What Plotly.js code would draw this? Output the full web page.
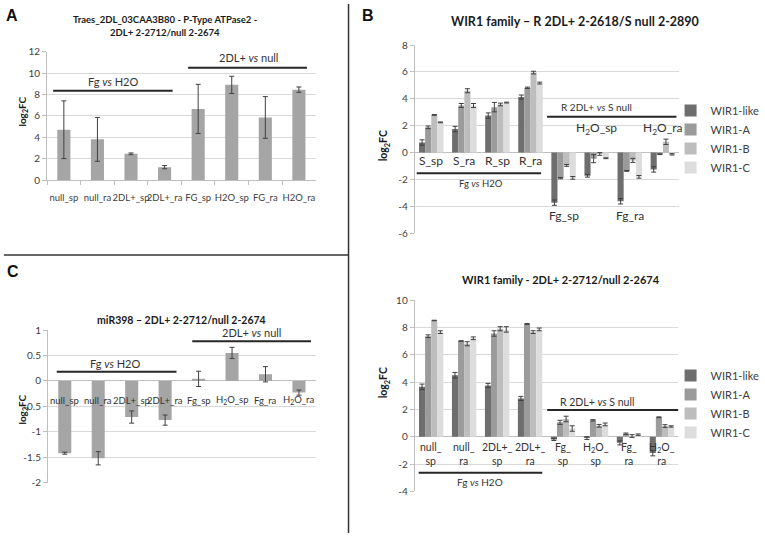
<!DOCTYPE html>
<html><head><meta charset="utf-8">
<script src="https://cdn.plot.ly/plotly-3.0.1.min.js"></script>
<style>html,body{margin:0;padding:0;background:#fff;}#chart{width:765px;height:537px;}</style>
</head><body><div id="chart"></div>
<script>
// ---------- DATA ----------
// Panel A
const catsA = ['null_sp','null_ra','2DL+_sp','2DL+_ra','FG_sp','H2O_sp','FG_ra','H2O_ra'];
const valsA = [4.7, 3.8, 2.45, 1.2, 6.65, 8.9, 5.85, 8.45];
const errA  = [2.7, 2.05, 0.08, 0.15, 2.3, 0.8, 1.95, 0.25];
// Panel C
const catsC = ['null_sp','null_ra','2DL+_sp','2DL+_ra','Fg_sp','H<sub>2</sub>O_sp','Fg_ra','H<sub>2</sub>O_ra'];
const valsC = [-1.42, -1.52, -0.71, -0.77, 0.04, 0.55, 0.13, -0.23];
const errC  = [0.02, 0.13, 0.12, 0.1, 0.15, 0.11, 0.15, 0.05];
// Panel B (top)
const seriesNames = ['WIR1-like','WIR1-A','WIR1-B','WIR1-C'];
const catsB1 = ['S_sp','S_ra','R_sp','R_ra','Fg_sp','H<sub>2</sub>O_sp','Fg_ra','H<sub>2</sub>O_ra'];
const b1Like = [0.75, 1.75, 2.75, 4.13, -3.72, -1.72, -3.62, -1.25];
const b1A    = [1.88, 3.5, 3.38, 4.82, -1.9, -0.45, -1.36, -0.12];
const b1B    = [2.8, 4.6, 3.58, 5.95, -0.95, -0.1, -0.58, 0.8];
const b1C    = [2.25, 3.5, 3.72, 5.17, -1.88, -0.42, -1.8, -0.13];
const b1LikeErr = [0.2, 0.2, 0.2, 0.15, 0.2, 0.1, 0.2, 0.2];
const b1AErr    = [0.1, 0.15, 0.35, 0.05, 0.05, 0.3, 0.03, 0.03];
const b1BErr    = [0.03, 0.15, 0.1, 0.1, 0.07, 0.1, 0.15, 0.2];
const b1CErr    = [0.03, 0.15, 0.03, 0.07, 0.1, 0.03, 0.1, 0.05];
// Panel B (bottom)
const catsB2 = ['null_<br>sp','null_<br>ra','2DL+_<br>sp','2DL+_<br>ra','Fg_<br>sp','H<sub>2</sub>O_<br>sp','Fg_<br>ra','H<sub>2</sub>O_<br>ra'];
const b2Like = [3.65, 4.5, 3.75, 2.8, -0.2, -0.1, -0.45, -1.2];
const b2A    = [7.35, 7.0, 7.55, 8.25, 1.05, 1.2, 0.22, 1.42];
const b2B    = [8.5, 6.8, 7.9, 7.65, 1.3, 0.8, 0.05, 0.78];
const b2C    = [7.65, 7.2, 7.85, 7.85, 0.6, 0.9, 0.15, 0.75];
const b2LikeErr = [0.2, 0.2, 0.15, 0.15, 0.08, 0.1, 0.15, 0.2];
const b2AErr    = [0.1, 0.02, 0.2, 0.03, 0.15, 0.05, 0.05, 0.03];
const b2BErr    = [0.02, 0.15, 0.15, 0.1, 0.2, 0.1, 0.1, 0.1];
const b2CErr    = [0.1, 0.1, 0.2, 0.1, 0.2, 0.1, 0.05, 0.05];
// tick labels
const ticksA = [0,2,4,6,8,10,12];
const ticksC = [1,0.5,0,-0.5,-1,-1.5,-2];
const ticksC_txt = ['1','0.5','0','-0.5','-1','-1.5','-2'];
const ticksB1 = [8,6,4,2,0,-2,-4,-6];
const ticksB1_txt = ['8','6','4','2','0','-2','-4','-6'];
const ticksB2 = [10,8,6,4,2,0,-2,-4];
const ticksB2_txt = ['10','8','6','4','2','0','-2','-4'];

// ---------- LAYOUT HELPERS ----------
const W = 765, H = 537;
const P = x => x / W, Q = y => 1 - y / H;
const FONT = 'Lato, "Open Sans", sans-serif';
const greyBar = '#a5a5a5';
const seriesColors = ['#6e6e6e', '#9b9b9b', '#bdbdbd', '#dddddd'];
const errStyle = {color:'#404040', thickness:1, width:2.5};

function yAx(dom, range, vals, txt, zero) {
  return {domain: dom, range: range, tickmode:'array', tickvals: vals, ticktext: txt,
    showgrid:true, gridcolor:'#d9d9d9', gridwidth:1, showline:true, linecolor:'#bfbfbf', linewidth:1,
    ticks:'outside', ticklen:4, tickcolor:'#bfbfbf', tickfont:{family:FONT, size:10, color:'#404040'},
    zeroline: !!zero, zerolinecolor:'#bfbfbf', zerolinewidth:1, fixedrange:true};
}
function xAx(dom, anchor, showLabels) {
  return {domain: dom, anchor: anchor, type:'category', range:[-0.5, 7.5],
    showgrid:false, zeroline:false, showline: showLabels, linecolor:'#bfbfbf',
    ticks: showLabels ? 'outside' : '', tickson:'boundaries', ticklen:4, tickcolor:'#bfbfbf',
    ticklabelstandoff: 9,
    showticklabels: showLabels, tickangle:0, tickfont:{family:FONT, size:9.5, color:'#404040'}, fixedrange:true};
}

// ---------- TRACES ----------
const traces = [];
traces.push({type:'bar', x:catsA, y:valsA, xaxis:'x', yaxis:'y', width:0.39, marker:{color:greyBar},
  error_y:Object.assign({type:'data', array:errA}, errStyle), showlegend:false, hoverinfo:'skip'});
traces.push({type:'bar', x:catsC, y:valsC, xaxis:'x3', yaxis:'y3', width:0.39, marker:{color:greyBar},
  error_y:Object.assign({type:'data', array:errC}, errStyle), showlegend:false, hoverinfo:'skip'});
const b1Vals = [b1Like, b1A, b1B, b1C], b1Errs = [b1LikeErr, b1AErr, b1BErr, b1CErr];
const b2Vals = [b2Like, b2A, b2B, b2C], b2Errs = [b2LikeErr, b2AErr, b2BErr, b2CErr];
seriesNames.forEach((n, i) => {
  traces.push({type:'bar', name:n, x:catsB1, y:b1Vals[i], xaxis:'x2', yaxis:'y2', legend:'legend',
    marker:{color:seriesColors[i]}, error_y:Object.assign({type:'data', array:b1Errs[i]}, errStyle), hoverinfo:'skip'});
});
seriesNames.forEach((n, i) => {
  traces.push({type:'bar', name:n, x:catsB2, y:b2Vals[i], xaxis:'x4', yaxis:'y4', legend:'legend2',
    marker:{color:seriesColors[i]}, error_y:Object.assign({type:'data', array:b2Errs[i]}, errStyle), hoverinfo:'skip'});
});

// ---------- ANNOTATIONS ----------
const ann = [];
function txt(x, y, text, size, opts) {
  ann.push(Object.assign({x:x, y:y, xref:'paper', yref:'paper', text:text, showarrow:false,
    xanchor:'center', yanchor:'middle', font:{family:FONT, size:size, color:'#1a1a1a'}}, opts || {}));
}
const letterFont = {family:'"Liberation Sans", Arial, sans-serif', size:16, color:'#111'};
txt(P(12), Q(15), '<b>A</b>', 16, {font:letterFont});
txt(P(375), Q(16), '<b>B</b>', 16, {font:letterFont});
txt(P(13), Q(271), '<b>C</b>', 16, {font:letterFont});
// titles
txt(P(168), Q(20), '<b>Traes_2DL_03CAA3B80 - P-Type ATPase2 -</b>', 9.5);
txt(P(168), Q(33), '<b>2DL+ 2-2712/null 2-2674</b>', 9.5);
txt(P(587), Q(22), '<b>WIR1 family – R 2DL+ 2-2618/S null 2-2890</b>', 12.5);
txt(P(572), Q(279), '<b>WIR1 family - 2DL+ 2-2712/null 2-2674</b>', 11);
txt(P(185), Q(320), '<b>miR398 – 2DL+ 2-2712/null 2-2674</b>', 10.5);
// axis titles
txt(P(22), Q(112), '<b>log<sub>2</sub>FC</b>', 10, {textangle:-90});
txt(P(22), Q(410), '<b>log<sub>2</sub>FC</b>', 10, {textangle:-90});
txt(P(392), Q(146), '<b>log<sub>2</sub>FC</b>', 10.5, {textangle:-90});
txt(P(392), Q(383), '<b>log<sub>2</sub>FC</b>', 10.5, {textangle:-90});

function dtxt(xr, yr, x, y, text, size) {
  ann.push({xref:xr, yref:yr, x:x, y:y, text:text, showarrow:false, xanchor:'center', yanchor:'middle',
    font:{family:FONT, size:size, color:'#333'}});
}
// group labels
dtxt('x','y', 1.46, 9.2, 'Fg <i>vs</i> H2O', 11);
dtxt('x','y', 5.49, 11.5, '2DL+ <i>vs</i> null', 11);
dtxt('x3','y3', 1.49, 0.35, 'Fg <i>vs</i> H2O', 11);
dtxt('x3','y3', 5.57, 0.96, '2DL+ <i>vs</i> null', 11);
dtxt('x2','y2', 1.49, -2.3, 'Fg <i>vs</i> H2O', 9.5);
dtxt('x2','y2', 4.98, 3.4, 'R 2DL+ <i>vs</i> S null', 10);
dtxt('x4','y4', 1.49, -3.3, 'Fg <i>vs</i> H2O', 10);
dtxt('x4','y4', 5.04, 2.56, 'R 2DL+ <i>vs</i> S null', 10.5);

// category labels placed next to the zero line
const labelYC = -0.38;
catsC.forEach(c => dtxt('x3','y3', c, labelYC, c, 9.5));
const labelYB1 = [-0.62,-0.62,-0.62,-0.62,-4.7,1.76,-4.7,1.76];
catsB1.forEach((c, i) => dtxt('x2','y2', c, labelYB1[i], c, 12));
const labelYB2 = -1.3;
catsB2.forEach(c => dtxt('x4','y4', c, labelYB2, c, 10.5));

// ---------- SHAPES ----------
const shapes = [];
function hline(xr, yr, x0, x1, y) {
  shapes.push({type:'line', xref:xr, yref:yr, x0:x0, x1:x1, y0:y, y1:y, line:{color:'#262626', width:2}});
}
hline('x','y', -0.32, 3.24, 8.35);
hline('x','y', 3.70, 7.24, 10.5);
hline('x3','y3', -0.24, 3.34, 0.18);
hline('x3','y3', 3.81, 7.36, 0.78);
hline('x2','y2', -0.44, 3.32, -1.53);
hline('x2','y2', 3.5, 7.41, 2.67);
hline('x4','y4', -0.38, 3.37, -2.63);
hline('x4','y4', 3.52, 7.5, 1.95);
// panel dividers
shapes.push({type:'line', xref:'paper', yref:'paper', x0:P(355.5), x1:P(355.5), y0:Q(4), y1:Q(533), line:{color:'#333', width:1.5}});
shapes.push({type:'line', xref:'paper', yref:'paper', x0:P(4), x1:P(355.5), y0:Q(255), y1:Q(255), line:{color:'#333', width:1.5}});

const legendStyle = {xanchor:'left', yanchor:'top', font:{family:FONT, size:11, color:'#404040'},
  bgcolor:'rgba(0,0,0,0)', borderwidth:0, tracegroupgap:0, itemclick:false, itemdoubleclick:false};

const layout = {
  width: W, height: H, margin:{l:0, r:0, t:0, b:0}, paper_bgcolor:'#fff', plot_bgcolor:'#fff',
  barmode:'group', bargap:0.26, bargroupgap:0,
  xaxis:  xAx([P(48), P(322)], 'y', true),
  yaxis:  yAx([Q(180), Q(51.7)], [0, 12], ticksA, ticksA.map(String), false),
  xaxis2: xAx([P(423), P(693)], 'y2', false),
  yaxis2: yAx([Q(233.3), Q(45)], [-6, 8], ticksB1, ticksB1_txt, true),
  xaxis3: xAx([P(49), P(322)], 'y3', false),
  yaxis3: yAx([Q(482.7), Q(330)], [-2, 1], ticksC, ticksC_txt, true),
  xaxis4: xAx([P(423), P(692)], 'y4', false),
  yaxis4: yAx([Q(491.4), Q(300)], [-4, 10], ticksB2, ticksB2_txt, true),
  legend:  Object.assign({x:P(684), y:Q(96)}, legendStyle),
  legend2: Object.assign({x:P(684), y:Q(361)}, legendStyle),
  annotations: ann, shapes: shapes, showlegend:true
};
layout.yaxis.anchor = 'x'; layout.yaxis2.anchor = 'x2'; layout.yaxis3.anchor = 'x3'; layout.yaxis4.anchor = 'x4';

Plotly.newPlot('chart', traces, layout, {displayModeBar:false, staticPlot:true});
</script>
</body></html>
